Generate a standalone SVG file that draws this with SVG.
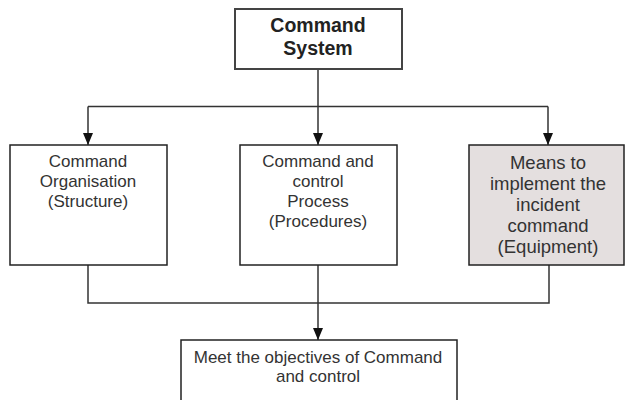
<svg xmlns="http://www.w3.org/2000/svg" width="625" height="400" viewBox="0 0 625 400">
<defs>
<style>
.box{fill:#fff;stroke:#222;stroke-width:1.5}
.grey{fill:#e4dfdf}
.t{font-family:"Liberation Sans",Arial,sans-serif;font-size:17px;fill:#333;text-anchor:middle}
.tr{font-size:18.5px}
.title{font-family:"Liberation Sans",Arial,sans-serif;font-size:19.5px;font-weight:bold;fill:#222;text-anchor:middle}
.ln{fill:none;stroke:#333;stroke-width:1.5}
</style>
<marker id="arr" viewBox="0 0 12 10" refX="12" refY="5" markerWidth="12" markerHeight="10" markerUnits="userSpaceOnUse" orient="auto">
<path d="M0,0 L12,5 L0,10 Z" fill="#111"/>
</marker>
</defs>
<g id="connectors">
<path class="ln" d="M318,69 V106.5"/>
<path class="ln" d="M88,106.5 H548"/>
<path class="ln" d="M88,106.5 V145" marker-end="url(#arr)"/>
<path class="ln" d="M318,106.5 V145" marker-end="url(#arr)"/>
<path class="ln" d="M548,106.5 V145" marker-end="url(#arr)"/>
<path class="ln" d="M88,265 V303 H549 V265"/>
<path class="ln" d="M318,265 V340" marker-end="url(#arr)"/>
</g>
<g id="command-system">
<rect class="box" x="235" y="9" width="167" height="60" style="stroke:#444;stroke-width:2"/>
<text class="title" x="318" y="32">Command</text>
<text class="title" x="318" y="55">System</text>
</g>
<g id="organisation">
<rect class="box" x="10" y="145" width="157" height="120"/>
<text class="t" x="88" y="167">Command</text>
<text class="t" x="88" y="187">Organisation</text>
<text class="t" x="88" y="207">(Structure)</text>
</g>
<g id="process">
<rect class="box" x="240" y="145" width="157" height="120"/>
<text class="t" x="318" y="167">Command and</text>
<text class="t" x="318" y="187">control</text>
<text class="t" x="318" y="207">Process</text>
<text class="t" x="318" y="227">(Procedures)</text>
</g>
<g id="means">
<rect class="box grey" x="469" y="145" width="155" height="120"/>
<text class="t tr" x="548" y="169">Means to</text>
<text class="t tr" x="548" y="190">implement the</text>
<text class="t tr" x="548" y="211">incident</text>
<text class="t tr" x="548" y="232">command</text>
<text class="t tr" x="548" y="253">(Equipment)</text>
</g>
<g id="objectives">
<rect class="box" x="181" y="340" width="276" height="70"/>
<text class="t" x="318" y="363">Meet the objectives of Command</text>
<text class="t" x="318" y="382">and control</text>
</g>
</svg>
